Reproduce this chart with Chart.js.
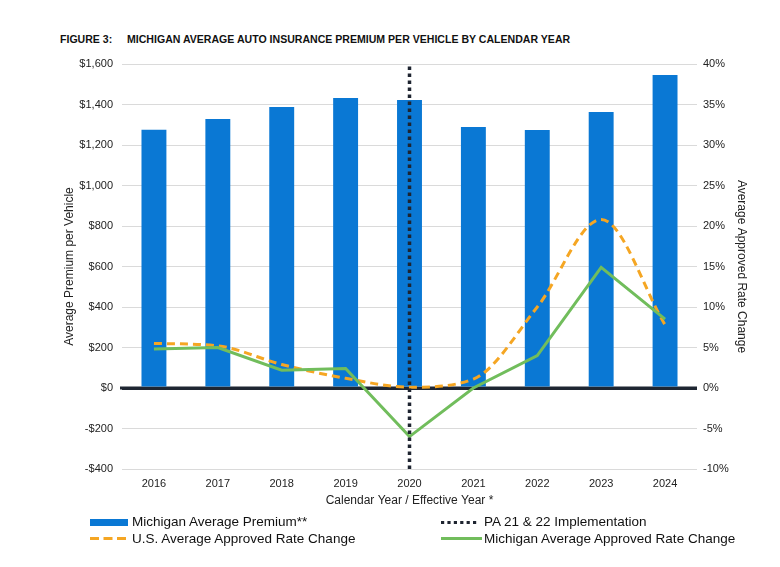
<!DOCTYPE html>
<html>
<head>
<meta charset="utf-8">
<script src="https://cdn.jsdelivr.net/npm/chart.js@4.4.1/dist/chart.umd.min.js"></script>
<style>
  html,body{margin:0;padding:0;background:#fff;}
  body{width:780px;height:567px;position:relative;overflow:hidden;font-family:"Liberation Sans",Arial,sans-serif;}
  #wrap{position:absolute;left:0;top:0;width:780px;height:567px;}
  .title{position:absolute;top:33px;font-weight:bold;font-size:11px;color:#111;white-space:nowrap;transform-origin:0 50%;transform:scaleX(0.96);}
  .leg{position:absolute;font-size:13.5px;line-height:16px;color:#111;white-space:nowrap;display:flex;align-items:center;}
  .leg svg{display:block;}
</style>
</head>
<body>
<div class="title" style="left:60px;">FIGURE 3:</div>
<div class="title" style="left:127px;">MICHIGAN AVERAGE AUTO INSURANCE PREMIUM PER VEHICLE BY CALENDAR YEAR</div>
<div id="wrap"><canvas id="c"></canvas></div>
<div id="legend"></div>
<script>
const categories = ['2016','2017','2018','2019','2020','2021','2022','2023','2024'];
const michiganPremium = [1275, 1328, 1388, 1432, 1422, 1289, 1274, 1363, 1546];
const usRateChange = [5.5, 5.2, 2.9, 1.2, 0.1, 1.1, 10.0, 20.8, 7.8];
const michiganRateChange = [4.8, 5.0, 2.2, 2.4, -6.0, 0.0, 4.0, 14.9, 8.5];
const implementationYear = '2020';
const implementationSpan = [-10, 40];
const leftTicks = [-400, -200, 0, 200, 400, 600, 800, 1000, 1200, 1400, 1600];
const rightTicks = [-10, -5, 0, 5, 10, 15, 20, 25, 30, 35, 40];

const labels = {
  bar: 'Michigan Average Premium**',
  pa: 'PA 21 & 22 Implementation',
  us: 'U.S. Average Approved Rate Change',
  mi: 'Michigan Average Approved Rate Change'
};
const colors = {bar:'#0a78d4', us:'#f5a623', mi:'#71bd5c', pa:'#1e2430', zero:'#1e2632', grid:'#dadada', text:'#222'};

const fmtMoney = v => (v < 0 ? '-$' : '$') + Math.abs(v).toLocaleString('en-US');

const ctx = document.getElementById('c');
new Chart(ctx, {
  type: 'bar',
  data: {
    labels: categories,
    datasets: [
      {type:'line', label: labels.pa, data: implementationSpan.map(y => ({x: implementationYear, y})),
        yAxisID:'y1', borderColor: colors.pa, borderWidth: 3.5, borderDash:[3.5,3.5], pointRadius:0, fill:false, order:0},
      {type:'line', label: labels.mi, data: michiganRateChange, yAxisID:'y1', borderColor: colors.mi,
        borderWidth: 3, pointRadius:0, tension:0, fill:false, order:1},
      {type:'line', label: labels.us, data: usRateChange, yAxisID:'y1', borderColor: colors.us,
        borderWidth: 3, borderDash:[8,5], pointRadius:0, cubicInterpolationMode:'monotone', tension:0.4, fill:false, order:2},
      {type:'bar', label: labels.bar, data: michiganPremium, yAxisID:'y', backgroundColor: colors.bar,
        barPercentage: 0.5, categoryPercentage: 0.78, order:3}
    ]
  },
  options: {
    responsive: true,
    maintainAspectRatio: false,
    animation: false,
    layout: {padding: {left: 62, right: 31, top: 64, bottom: 59}},
    plugins: {legend: {display:false}, tooltip: {enabled:false}},
    scales: {
      x: {
        grid: {display:false, drawTicks:false, tickLength:0},
        border: {display:false},
        ticks: {color: colors.text, font: {family:'"Liberation Sans", Arial', size: 11}, padding: 8, maxRotation:0},
        title: {display:true, text:'Calendar Year / Effective Year *', color: colors.text,
          font: {family:'"Liberation Sans", Arial', size: 12}, padding: {top: 2, bottom: 0}},
        afterFit: s => { s.height = 39; }
      },
      y: {
        position:'left', min: -400, max: 1600,
        afterBuildTicks: s => { s.ticks = leftTicks.map(v => ({value: v})); },
        grid: {
          color: c => c.tick && c.tick.value === 0 ? colors.zero : colors.grid,
          lineWidth: c => c.tick && c.tick.value === 0 ? 3 : 1,
          drawTicks: false
        },
        border: {display:false},
        ticks: {color: colors.text, font: {family:'"Liberation Sans", Arial', size: 11}, padding: 9, callback: v => fmtMoney(v)},
        title: {display:true, text:'Average Premium per Vehicle', color: colors.text,
          font: {family:'"Liberation Sans", Arial', size: 12}, padding: {top: 0, bottom: 4}},
        afterFit: s => { s.width = 60; }
      },
      y1: {
        position:'right', min: -10, max: 40,
        afterBuildTicks: s => { s.ticks = rightTicks.map(v => ({value: v})); },
        grid: {display:false, drawTicks:false, tickLength:0},
        border: {display:false},
        ticks: {color: colors.text, font: {family:'"Liberation Sans", Arial', size: 11}, padding: 6, callback: v => v + '%'},
        title: {display:true, text:'Average Approved Rate Change', color: colors.text,
          font: {family:'"Liberation Sans", Arial', size: 12}, padding: {top: 0, bottom: 4}},
        afterFit: s => { s.width = 52; }
      }
    }
  },
  plugins: [{
    id: 'zeroExtend',
    beforeDatasetsDraw(chart) {
      const y = chart.scales.y.getPixelForValue(0);
      const c = chart.ctx;
      c.save();
      c.strokeStyle = colors.zero; c.lineWidth = 3;
      c.beginPath(); c.moveTo(chart.chartArea.left - 2, y); c.lineTo(chart.chartArea.right, y); c.stroke();
      c.restore();
    }
  }]
});

// HTML legend built from the dataset labels
const legendItems = [
  {text: labels.bar, left: 90, top: 514, w: 42, sw: '<rect x="0" y="3" width="38" height="7" fill="'+colors.bar+'"/>'},
  {text: labels.pa, left: 441, top: 514, w: 43, sw: '<line x1="0" y1="6.5" x2="38" y2="6.5" stroke="'+colors.pa+'" stroke-width="3.2" stroke-dasharray="3.2,3.2"/>'},
  {text: labels.us, left: 90, top: 530.5, w: 42, sw: '<line x1="0" y1="6.5" x2="37" y2="6.5" stroke="'+colors.us+'" stroke-width="3" stroke-dasharray="9,4.5"/>'},
  {text: labels.mi, left: 441, top: 530.5, w: 43, sw: '<line x1="0" y1="6.5" x2="41" y2="6.5" stroke="'+colors.mi+'" stroke-width="3"/>'}
];
const lg = document.getElementById('legend');
legendItems.forEach(it => {
  const d = document.createElement('div');
  d.className = 'leg';
  d.style.left = it.left + 'px';
  d.style.top = it.top + 'px';
  d.innerHTML = '<svg width="' + it.w + '" height="13">' + it.sw + '</svg><span>' + it.text.replace(/&/g,'&amp;') + '</span>';
  lg.appendChild(d);
});
</script>
</body>
</html>
